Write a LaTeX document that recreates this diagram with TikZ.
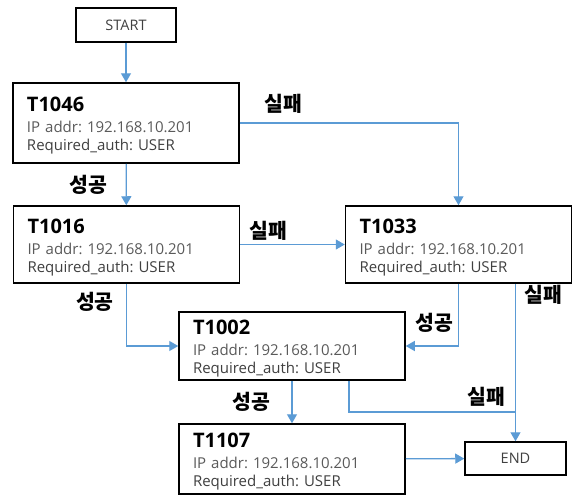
\documentclass[tikz,border=0pt]{standalone}
\usepackage{fontspec}
\setmainfont{Open Sans}
\newfontfamily\krfont{Noto Sans CJK KR}
\usepackage{xcolor}
\usepackage{tikz}
\usetikzlibrary{arrows.meta,positioning,calc}

\definecolor{flowblue}{HTML}{5B9BD5}
\definecolor{ipgray}{HTML}{5A5A5A}
\definecolor{authgray}{HTML}{404040}

\newcommand{\tasktext}[1]{\rule{0pt}{20pt}{\fontsize{20}{20}\selectfont\bfseries #1}\\[3pt]
  {\color{ipgray}IP addr: 192.168.10.201}\\
  {\color{authgray}Required\_auth: USER}}

\begin{document}
\frenchspacing
\begin{tikzpicture}[x=1pt,y=-1pt,>={Triangle[length=9pt,width=10pt]},
    flow/.style={->,flowblue,line width=1.3pt},
    term/.style={draw,line width=1.5pt,minimum width=100pt,minimum height=34pt,
      font=\fontsize{14.5}{16}\selectfont,text=authgray},
    task/.style={draw,line width=1.5pt,align=left,text width=198pt,
      inner xsep=14pt,inner ysep=0pt,font=\fontsize{15}{18}\selectfont},
    result/.style={font=\krfont\bfseries\fontsize{20.5}{20.5}\selectfont}]
  \useasboundingbox (0,0) rectangle (574,496);
  \fill[white] (0,0) rectangle (574,496);

  % boxes
  \node[term] (start) at (126,25) {START};
  \node[task,minimum height=80pt] (t1046) at (126,123) {\tasktext{T1046}};
  \node[task,minimum height=77pt] (t1016) at (126.5,244.5) {\tasktext{T1016}};
  \node[task,minimum height=77pt] (t1033) at (458.5,244.5) {\tasktext{T1033}};
  \node[task,minimum height=68pt] (t1002) at (292,346) {\tasktext{T1002}};
  \node[task,minimum height=70pt] (t1107) at (292,459) {\tasktext{T1107}};
  \node[term,minimum width=101pt,minimum height=33pt] (end) at (515.5,458.5) {END};

  % connectors
  \draw[flow] (start) -- (t1046);
  \draw[flow] (t1046) -- (t1016);
  \draw[flow] (t1046.east) -| (t1033.north);
  \draw[flow] (t1016) -- (t1033);
  \draw[flow] (t1016.south) |- (t1002.west);
  \draw[flow] (t1033.south) |- (t1002.east);
  \draw[flow] (t1033.south -| end.north) -- (end.north);
  \draw[flow] (t1002) -- (t1107);
  \draw[flow] (t1107) -- (end);
  \coordinate (merge) at (end.north |- 0,412);
  \draw[flowblue,line width=1.3pt]
    ($(t1002.south west)!0.75!(t1002.south east)$) |- (merge);

  % outcomes
  \node[result] (fail1) at (283.5,103.5) {실패};
  \node[result] (ok1) at (88,185) {성공};
  \node[result] (fail2) at (268,231) {실패};
  \node[result] (ok2) at (95,302) {성공};
  \node[result] (ok3) at (434,323) {성공};
  \node[result] (fail3) at (543,295) {실패};
  \node[result] (fail4) at (486,397) {실패};
  \node[result] (ok4) at (251,402) {성공};
\end{tikzpicture}
\end{document}
